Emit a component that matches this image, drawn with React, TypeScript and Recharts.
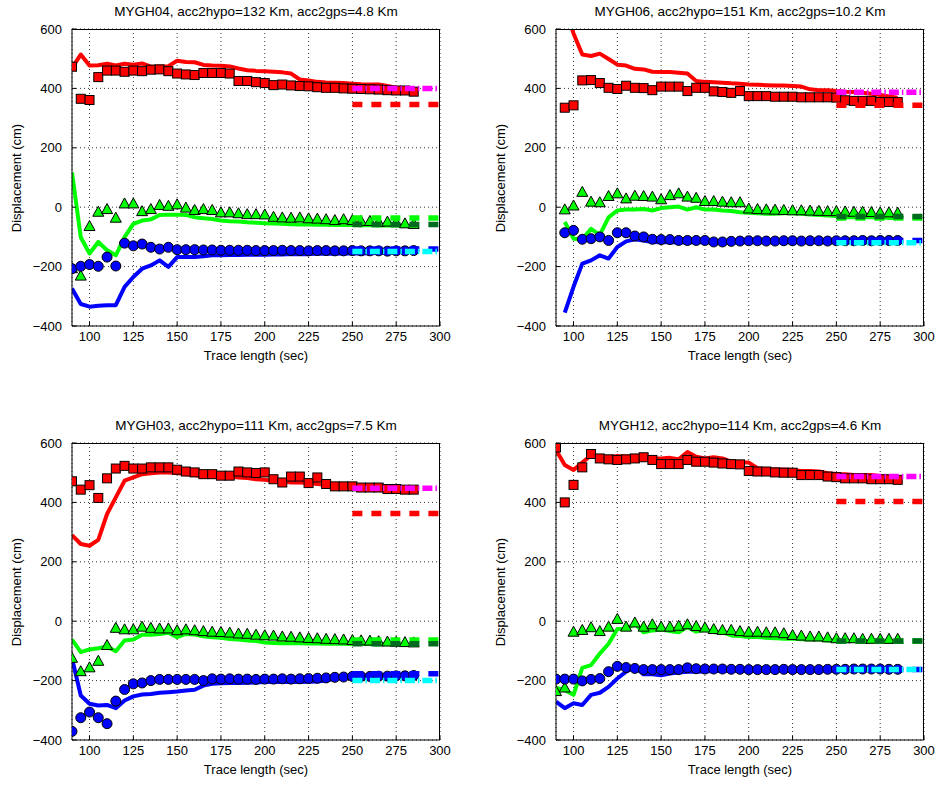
import { CartesianGrid, ComposedChart, Line, XAxis, YAxis } from "recharts";

// trace length samples (sec)
const T = [
  90, 95, 100, 105, 110, 115, 120, 125, 130, 135, 140, 145, 150, 155, 160, 165, 170, 175, 180, 185,
  190, 195, 200, 205, 210, 215, 220, 225, 230, 235, 240, 245, 250, 255, 260, 265, 270, 275, 280, 285,
];
const X_TICKS = [100, 125, 150, 175, 200, 225, 250, 275, 300];
const Y_TICKS = [-400, -200, 0, 200, 400, 600];
const X_RANGE = [90, 300];
const Y_RANGE = [-400, 600];
const REF_SPAN = [250, 300];

// MYGH04
const redLine04 = [469, 514, 477, 478, 483, 477, 483, 480, 484, 473, 474, 475, 493, 489, 488, 479, 477, 476, 474, 467, 461, 459, 458, 456, 454, 450, 430, 427, 422, 420, 419, 418, 416, 414, 413, 413, 408, 402, 399, 396];
const redPts04 = [473, 365, 361, 438, 460, 460, 456, 460, 458, 463, 464, 458, 450, 447, 445, 452, 452, 452, 450, 425, 425, 421, 418, 411, 413, 410, 408, 407, 404, 402, 402, 400, 399, 398, 397, 396, 394, 393, 393, 389];
const greenLine04 = [117, -101, -156, -117, -145, -162, -101, -56, -45, -41, -26, -25, -25, -26, -34, -37, -40, -45, -47, -48, -51, -52, -54, -55, -56, -57, -58, -58, -59, -59, -60, -60, -60, -61, -61, -62, -62, -62, -63, -63];
const greenPts04 = [-207, -232, -65, -17, -8, -37, 11, 11, -15, -8, 6, 3, 8, -3, -11, -8, -11, -19, -19, -22, -25, -25, -26, -34, -36, -37, -36, -39, -40, -42, -45, -42, -45, -48, -48, -51, -50, -52, -56, -58];
const blueLine04 = [-274, -326, -335, -332, -330, -330, -268, -235, -207, -196, -179, -201, -168, -168, -168, -165, -162, -162, -161, -161, -160, -160, -160, -159, -159, -158, -158, -158, -157, -157, -157, -156, -156, -156, -155, -154, -153, -152, -151, -149];
const bluePts04 = [-207, -199, -193, -199, -168, -198, -121, -130, -124, -135, -141, -135, -143, -143, -143, -144, -144, -145, -145, -145, -145, -146, -146, -146, -145, -146, -146, -147, -146, -146, -147, -147, -146, -147, -147, -147, -148, -147, -147, -146];
const refs04 = [400, 346, -36, -58, -141, -149];

// MYGH06
const redLine06 = [null, 680, 585, 514, 509, 517, 499, 480, 477, 466, 464, 456, 455, 455, 453, 450, 425, 422, 421, 419, 417, 416, 413, 412, 411, 410, 410, 408, 406, 397, 394, 394, 391, 389, 388, 385, 382, 378, 373, 369];
const redPts06 = [null, 335, 343, 427, 428, 418, 402, 398, 409, 402, 401, 394, 406, 406, 406, 391, 402, 402, 390, 388, 385, 391, 374, 374, 374, 372, 372, 372, 370, 370, 370, 370, 369, 360, 358, 358, 358, 354, 354, 354];
const greenLine06 = [null, -50, -106, -108, -73, -93, -34, -11, -8, -8, -6, -11, -3, 0, 2, -8, 0, -8, -8, -11, -13, -17, -19, -20, -22, -22, -20, -20, -22, -25, -26, -28, -30, -34, -34, -34, -34, -34, -36, -36];
const greenPts06 = [null, -9, 4, 50, 17, 15, 36, 45, 28, 37, 36, 34, 25, 39, 45, 34, 30, 19, 19, 17, 15, 15, -6, -8, -9, -10, -11, -12, -12, -13, -14, -15, -15, -16, -17, -17, -18, -19, -19, -20];
const blueLine06 = [null, -355, -268, -190, -179, -162, -173, -134, -115, -108, -112, -117, -118, -118, -119, -119, -118, -118, -119, -119, -119, -118, -118, -118, -118, -118, -118, -118, -118, -118, -118, -119, -118, -118, -118, -118, -118, -118, -118, -118];
const bluePts06 = [null, -86, -78, -108, -106, -100, -112, -86, -86, -97, -100, -108, -109, -109, -112, -112, -112, -112, -117, -117, -115, -114, -113, -113, -114, -114, -113, -113, -114, -113, -113, -114, -113, -113, -113, -112, -113, -112, -112, -112];
const refs06 = [387, 343, -36, -31, -112, -120];

// MYGH03
const redLine03 = [290, 260, 254, 274, 361, 417, 473, 484, 495, 498, 501, 501, 499, 495, 492, 487, 487, 490, 487, 484, 482, 478, 476, 473, 471, 467, 467, 465, 462, 459, 456, 456, 454, 453, 450, 450, 448, 447, 445, 445];
const redPts03 = [471, 443, 458, 415, 481, 514, 523, 514, 514, 518, 518, 518, 510, 504, 501, 495, 495, 490, 490, 504, 501, 499, 501, 478, 467, 487, 487, 465, 484, 462, 454, 454, 454, 450, 450, 450, 445, 445, 443, 443];
const greenLine03 = [-62, -104, -95, -91, -85, -101, -65, -62, -46, -46, -43, -39, -54, -43, -45, -51, -54, -56, -60, -62, -65, -67, -72, -73, -74, -74, -74, -75, -75, -76, -76, -76, -77, -77, -77, -78, -78, -78, -79, -79];
const greenPts03 = [-125, -170, -157, -135, -82, -24, -29, -29, -20, -24, -26, -26, -32, -29, -32, -35, -37, -38, -40, -43, -44, -47, -49, -50, -53, -54, -56, -58, -59, -61, -62, -63, -65, -66, -67, -69, -70, -71, -72, -73];
const blueLine03 = [-125, -250, -278, -284, -282, -293, -267, -253, -247, -245, -241, -239, -237, -233, -231, -217, -211, -209, -208, -208, -207, -206, -205, -205, -205, -205, -205, -204, -203, -200, -194, -192, -189, -186, -185, -183, -183, -183, -181, -181];
const bluePts03 = [-371, -325, -306, -325, -345, -269, -230, -211, -208, -200, -196, -196, -196, -196, -196, -200, -194, -195, -194, -195, -195, -196, -195, -195, -194, -195, -194, -193, -192, -191, -189, -188, -186, -186, -186, -185, -185, -184, -184, -183];
const refs03 = [448, 363, -63, -76, -177, -200];

// MYGH12
const redLine12 = [576, 526, 509, 534, 559, 554, 552, 556, 554, 556, 556, 548, 548, 550, 545, 570, 554, 548, 552, 548, 537, 534, 534, 515, 511, 511, 511, 509, 506, 506, 504, 498, 496, 495, 492, 492, 492, 489, 485, 481];
const redPts12 = [585, 400, 459, 518, 563, 548, 545, 543, 545, 548, 552, 543, 529, 529, 529, 543, 537, 537, 534, 531, 529, 528, 506, 504, 504, 501, 500, 500, 492, 492, 492, 487, 485, 481, 481, 481, 478, 478, 478, 476];
const greenLine12 = [-224, -232, -248, -157, -148, -109, -76, -26, -26, -9, -37, -31, -28, -33, -37, -20, -35, -28, -37, -37, -48, -50, -53, -53, -56, -57, -59, -59, -61, -62, -62, -65, -65, -67, -67, -67, -67, -68, -70, -70];
const greenPts12 = [-237, -225, -37, -31, -22, -35, -20, 6, -20, -6, -20, -12, -20, -20, -17, -12, -18, -23, -28, -31, -31, -35, -37, -37, -39, -39, -42, -48, -50, -53, -53, -56, -59, -59, -59, -61, -61, -61, -61, -61];
const blueLine12 = [-271, -293, -276, -282, -248, -241, -221, -193, -170, -154, -179, -179, -182, -176, -173, -170, -170, -169, -168, -168, -167, -167, -167, -166, -166, -166, -166, -165, -165, -165, -165, -165, -165, -164, -164, -164, -164, -164, -164, -164];
const bluePts12 = [-195, -195, -195, -201, -196, -193, -170, -152, -156, -159, -163, -163, -163, -163, -163, -157, -160, -161, -161, -161, -162, -162, -163, -163, -163, -163, -162, -163, -163, -163, -163, -162, -162, -162, -161, -161, -161, -161, -162, -162];
const refs12 = [487, 403, -67, -67, -163, -163];

// magenta, red, green, dark green, blue, cyan reference levels
const REF_STYLE = [
  { color: "#ff00ff", dash: "10 3 1.5 3" },
  { color: "#ff0000", dash: "10 9" },
  { color: "#00ff00", dash: "10 9" },
  { color: "#006a1e", dash: "10 9" },
  { color: "#0000ff", dash: "10 9" },
  { color: "#00ffff", dash: "10 3 1.5 3" },
];

const FONT = '"Liberation Sans", Arial, Helvetica, sans-serif';
const H = 380;
// plot box inside each panel
const BOX = { left: 72, top: 29, right: 440, bottom: 326 };

type Num = number | null;

type PanelDef = {
  title: string;
  left: number;
  top: number;
  width: number;
  redLine: Num[];
  redPts: Num[];
  greenLine: Num[];
  greenPts: Num[];
  blueLine: Num[];
  bluePts: Num[];
  refs: number[];
};

const ok = (p: any) => Number.isFinite(p?.cx) && Number.isFinite(p?.cy) && p?.value != null;

const SquareDot = (p: any) =>
  ok(p) ? (
    <rect key={p.key} x={p.cx - 4.5} y={p.cy - 4.5} width={9} height={9} fill="#ff0000" stroke="#000" strokeWidth={1} />
  ) : (
    <g key={p.key} />
  );

const TriangleDot = (p: any) =>
  ok(p) ? (
    <polygon
      key={p.key}
      points={`${p.cx},${p.cy - 6} ${p.cx - 5.5},${p.cy + 4} ${p.cx + 5.5},${p.cy + 4}`}
      fill="#00ff00"
      stroke="#000"
      strokeWidth={1}
    />
  ) : (
    <g key={p.key} />
  );

const CircleDot = (p: any) =>
  ok(p) ? (
    <circle key={p.key} cx={p.cx} cy={p.cy} r={5} fill="#0000ff" stroke="#000" strokeWidth={1} />
  ) : (
    <g key={p.key} />
  );

const fmtY = (v: number) => String(v).replace("-", "\u2212");

function Panel({ def }: { def: PanelDef }) {
  const rows = T.map((t, i) => ({
    t,
    rl: def.redLine[i],
    rp: def.redPts[i],
    gl: def.greenLine[i],
    gp: def.greenPts[i],
    bl: def.blueLine[i],
    bp: def.bluePts[i],
  }));

  const tick = { fill: "#000", fontSize: 13, fontFamily: FONT };
  const lineProps = {
    type: "linear" as const,
    dot: false,
    activeDot: false,
    strokeWidth: 4,
    strokeLinejoin: "round" as const,
    isAnimationActive: false,
  };
  const margin = { top: BOX.top, right: def.width - BOX.right, left: 26, bottom: 24 };

  return (
    <div style={{ position: "absolute", left: def.left, top: def.top, width: def.width, height: H }}>
      <div
        style={{
          position: "absolute",
          left: BOX.left,
          width: BOX.right - BOX.left,
          top: 4,
          textAlign: "center",
          fontSize: 13.5,
          lineHeight: "16px",
          fontFamily: FONT,
          whiteSpace: "nowrap",
        }}
      >
        {def.title}
      </div>
      <div style={{ position: "absolute", left: 0, top: 0, zIndex: 1 }}>
        <ComposedChart width={def.width} height={H} data={rows} margin={margin}>
          <CartesianGrid stroke="#000" strokeDasharray="1 3" strokeWidth={0.8} />
          <XAxis
            dataKey="t"
            type="number"
            domain={X_RANGE}
            ticks={X_TICKS}
            interval={0}
            allowDataOverflow
            height={30}
            tickSize={-4}
            tickMargin={10}
            tick={tick}
            stroke="#000"
          />
          <YAxis
            type="number"
            domain={Y_RANGE}
            ticks={Y_TICKS}
            interval={0}
            allowDataOverflow
            width={46}
            tickSize={-4}
            tickMargin={14}
            tick={tick}
            tickFormatter={fmtY}
            stroke="#000"
          />

          <Line {...lineProps} dataKey="rl" stroke="#ff0000" />
          <Line {...lineProps} dataKey="gl" stroke="#00ff00" />
          <Line {...lineProps} dataKey="bl" stroke="#0000ff" />

          <Line dataKey="rp" stroke="none" dot={SquareDot} activeDot={false} isAnimationActive={false} />
          <Line dataKey="gp" stroke="none" dot={TriangleDot} activeDot={false} isAnimationActive={false} />
          <Line dataKey="bp" stroke="none" dot={CircleDot} activeDot={false} isAnimationActive={false} />
        </ComposedChart>
      </div>
      {/* reference levels, drawn on top of the markers */}
      <div style={{ position: "absolute", left: 0, top: 0, pointerEvents: "none", zIndex: 2 }}>
        <ComposedChart
          width={def.width}
          height={H}
          margin={{ top: BOX.top, right: def.width - BOX.right, left: BOX.left, bottom: H - BOX.bottom }}
        >
          <XAxis dataKey="t" type="number" domain={X_RANGE} hide />
          <YAxis type="number" domain={Y_RANGE} hide />
          {def.refs.map((v, i) => (
            <Line
              key={`ref${i}`}
              data={REF_SPAN.map((t) => ({ t, v }))}
              dataKey="v"
              stroke={REF_STYLE[i].color}
              strokeDasharray={REF_STYLE[i].dash}
              strokeWidth={5.5}
              dot={false}
              activeDot={false}
              isAnimationActive={false}
            />
          ))}
        </ComposedChart>
      </div>
      {/* axes box */}
      <div
        style={{
          position: "absolute",
          left: BOX.left,
          top: BOX.top,
          width: BOX.right - BOX.left,
          height: BOX.bottom - BOX.top,
          borderTop: "1px solid #000",
          borderRight: "1px solid #000",
          boxSizing: "border-box",
          pointerEvents: "none",
          zIndex: 3,
        }}
      />
      <div
        style={{
          position: "absolute",
          left: BOX.left,
          width: BOX.right - BOX.left,
          top: 348,
          textAlign: "center",
          fontSize: 13,
          lineHeight: "16px",
          fontFamily: FONT,
        }}
      >
        Trace length (sec)
      </div>
      <div
        style={{
          position: "absolute",
          left: 17,
          top: (BOX.top + BOX.bottom) / 2,
          transform: "translate(-50%, -50%) rotate(-90deg)",
          fontSize: 13,
          lineHeight: "16px",
          fontFamily: FONT,
          whiteSpace: "nowrap",
        }}
      >
        Displacement (cm)
      </div>
    </div>
  );
}

const PANELS: PanelDef[] = [
  {
    title: "MYGH04, acc2hypo=132 Km, acc2gps=4.8 Km",
    left: 0,
    top: 0,
    width: 470,
    redLine: redLine04,
    redPts: redPts04,
    greenLine: greenLine04,
    greenPts: greenPts04,
    blueLine: blueLine04,
    bluePts: bluePts04,
    refs: refs04,
  },
  {
    title: "MYGH06, acc2hypo=151 Km, acc2gps=10.2 Km",
    left: 484,
    top: 0,
    width: 454,
    redLine: redLine06,
    redPts: redPts06,
    greenLine: greenLine06,
    greenPts: greenPts06,
    blueLine: blueLine06,
    bluePts: bluePts06,
    refs: refs06,
  },
  {
    title: "MYGH03, acc2hypo=111 Km, acc2gps=7.5 Km",
    left: 0,
    top: 414,
    width: 470,
    redLine: redLine03,
    redPts: redPts03,
    greenLine: greenLine03,
    greenPts: greenPts03,
    blueLine: blueLine03,
    bluePts: bluePts03,
    refs: refs03,
  },
  {
    title: "MYGH12, acc2hypo=114 Km, acc2gps=4.6 Km",
    left: 484,
    top: 414,
    width: 454,
    redLine: redLine12,
    redPts: redPts12,
    greenLine: greenLine12,
    greenPts: greenPts12,
    blueLine: blueLine12,
    bluePts: bluePts12,
    refs: refs12,
  },
];

export default function App() {
  return (
    <div
      style={{
        position: "absolute",
        left: 0,
        top: 0,
        width: 938,
        height: 786,
        background: "#fff",
        overflow: "hidden",
      }}
    >
      {PANELS.map((p) => (
        <Panel key={p.title} def={p} />
      ))}
    </div>
  );
}
